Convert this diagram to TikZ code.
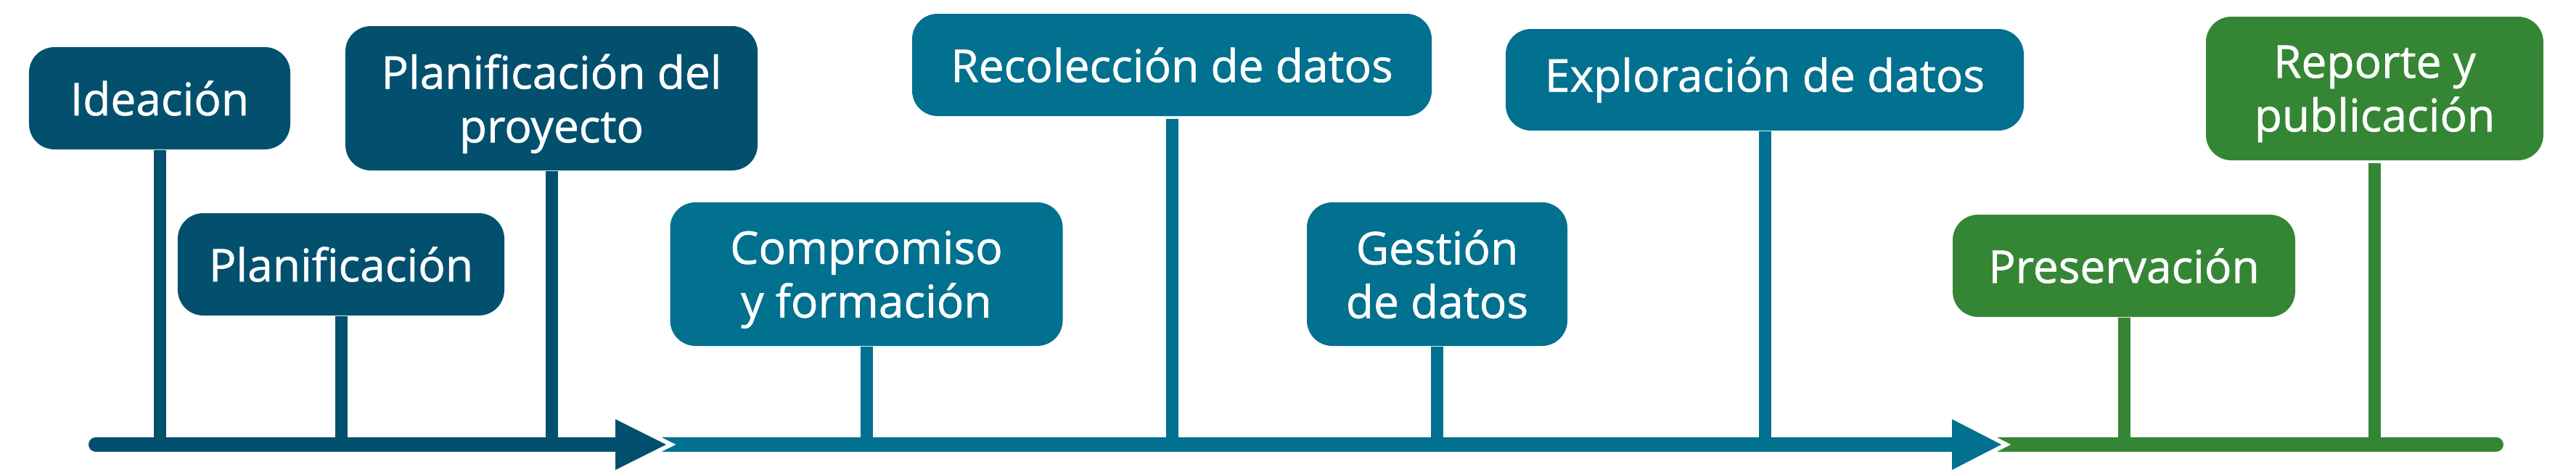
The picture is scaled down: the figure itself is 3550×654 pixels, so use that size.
\documentclass[tikz,border=0pt]{standalone}
\usepackage{fontspec}
\setmainfont{Open Sans}
\newfontfamily\boxfont{Open Sans}[FakeBold=1.0]
\definecolor{cdark}{RGB}{3,80,110}
\definecolor{cteal}{RGB}{2,112,143}
\definecolor{cgreen}{RGB}{53,134,52}
\tikzset{
  box/.style={rounded corners=7pt, inner sep=0pt, text=white, align=center,
    font=\boxfont\fontsize{12.45pt}{14.8pt}\selectfont},
  stem/.style={line width=3.4pt},
  axis/.style={line width=4pt},
  tip/.style={draw=white, line width=2.4pt, line join=miter}
}
\begin{document}
\begin{tikzpicture}[x=0.2pt,y=-0.2pt]
\useasboundingbox (0,0) rectangle (3550,654);
% axis coordinates
\coordinate (ax) at (0,613);
\coordinate (s0) at (132,613);
\coordinate (e0) at (855,613);
\coordinate (s1) at (870,613);
\coordinate (e1) at (2700,613);
\coordinate (s2) at (2720,613);
\coordinate (e2) at (3440,613);
% boxes
\node[box, fill=cdark, minimum width=72pt, minimum height=28.2pt] (ide) at (220,135.5) {Ideación};
\node[box, fill=cdark, minimum width=90pt, minimum height=28.2pt] (pla) at (470,364.5) {Planificación};
\node[box, fill=cdark, minimum width=113.6pt, minimum height=39.8pt] (pdp) at (760,135.5) {Planificación del\\\smash{proyecto}};
\node[box, fill=cteal, minimum width=108.2pt, minimum height=39.6pt] (com) at (1194,378) {Compromiso\\\smash{y formación}};
\node[box, fill=cteal, minimum width=143.2pt, minimum height=28.2pt] (rec) at (1615,89.5) {Recolección de datos};
\node[box, fill=cteal, minimum width=71.8pt, minimum height=39.6pt] (ges) at (1980.5,378) {Gestión\\de datos};
\node[box, fill=cteal, minimum width=142.8pt, minimum height=28pt] (exp) at (2432,110) {Exploración de datos};
\node[box, fill=cgreen, minimum width=94.4pt, minimum height=28.2pt] (pre) at (2927,366.5) {Preservación};
\node[box, fill=cgreen, minimum width=93pt, minimum height=39.6pt] (rep) at (3272.5,122) {Reporte y\\\smash{publicación}};
% stems
\draw[stem, cdark] (ide.south) -- (ide.south |- ax);
\draw[stem, cdark] (pla.south) -- (pla.south |- ax);
\draw[stem, cdark] (pdp.south) -- (pdp.south |- ax);
\draw[stem, cteal] (com.south) -- (com.south |- ax);
\draw[stem, cteal] ([yshift=-0.6pt]rec.south) -- (rec.south |- ax);
\draw[stem, cteal] (ges.south) -- (ges.south |- ax);
\draw[stem, cteal] (exp.south) -- (exp.south |- ax);
\draw[stem, cgreen] (pre.south) -- (pre.south |- ax);
\draw[stem, cgreen] ([yshift=-0.6pt]rep.south) -- (rep.south |- ax);
% axis segments
\draw[axis, cdark, line cap=round] (s0) -- (e0);
\draw[axis, cteal] (s1) -- (e1);
\draw[axis, cgreen, line cap=round] (s2) -- (e2);
% arrowheads
\coordinate (a1t) at (848,578); \coordinate (a1p) at (918,613); \coordinate (a1b) at (848,648);
\coordinate (a2t) at (2690,578); \coordinate (a2p) at (2758,613); \coordinate (a2b) at (2690,648);
\draw[tip] (a1t) -- (a1p) -- (a1b);
\fill[cdark] (a1t) -- (a1p) -- (a1b) -- cycle;
\draw[tip] (a2t) -- (a2p) -- (a2b);
\fill[cteal] (a2t) -- (a2p) -- (a2b) -- cycle;
\end{tikzpicture}
\end{document}
